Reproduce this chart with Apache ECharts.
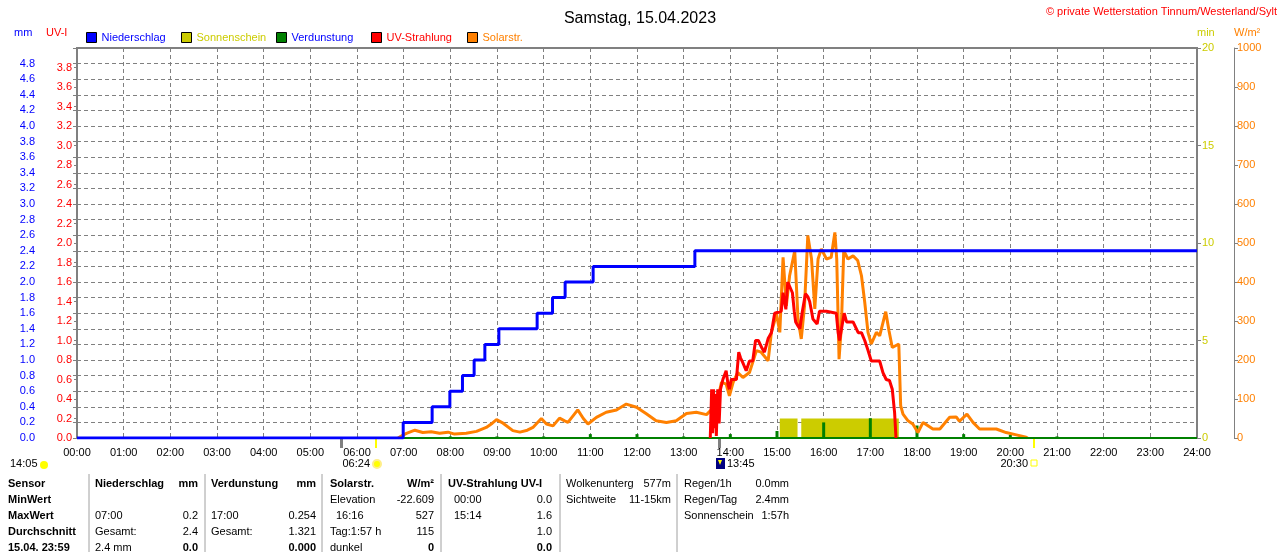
<!DOCTYPE html>
<html><head><meta charset="utf-8">
<script src="https://cdn.jsdelivr.net/npm/echarts@6/dist/echarts.min.js"></script>
<style>html,body{margin:0;padding:0;background:#fff}#c{width:1280px;height:552px}</style>
</head><body><div id="c"></div>
<script>
// ---------- data ----------
const xTickLabels = ['00:00','01:00','02:00','03:00','04:00','05:00','06:00','07:00','08:00','09:00','10:00','11:00','12:00','13:00','14:00','15:00','16:00','17:00','18:00','19:00','20:00','21:00','22:00','23:00','24:00'];

// Niederschlag (cumulative, mm)
const precipTimes  = [0, 6.99, 7.61, 7.99, 8.26, 8.51, 8.74, 9.04, 9.86, 10.19, 10.46, 11.06, 13.24, 24];
const precipValues = [0, 0.2, 0.4, 0.6, 0.8, 1.0, 1.2, 1.4, 1.6, 1.8, 2.0, 2.2, 2.4, 2.4];

// Sonnenschein (min)
const sunStart   = [15.06, 15.52];
const sunEnd     = [15.44, 17.61];
const sunMinutes = [1, 1];

// Verdunstung (mm per hour)
const evapHours  = [1,2,3,4,5,6,7,8,9,10,11,12,13,14,15,16,17,18,19,20,21,22,23];
const evapValues = [0.01,0.01,0.01,0.01,0.01,0.01,0.01,0.02,0.02,0.02,0.05,0.05,0.02,0.05,0.09,0.2,0.254,0.16,0.05,0.04,0.02,0,0];

// UV-Strahlung (UV-I)
const uvTimes  = [13.57,13.6,13.62,13.64,13.66,13.68,13.7,13.73,13.76,13.79,13.84,13.91,13.95,13.98,14.02,14.06,14.13,14.18,14.22,14.26,14.34,14.41,14.48,14.54,14.6,14.63,14.68,14.73,14.81,14.88,14.95,15.09,15.13,15.19,15.23,15.26,15.33,15.37,15.4,15.45,15.49,15.54,15.61,15.66,15.7,15.74,15.77,15.86,15.91,16.06,16.27,16.31,16.34,16.4,16.44,16.49,16.63,16.74,16.81,16.88,16.95,17.02,17.2,17.27,17.34,17.41,17.47,17.52,17.55];
const uvValues = [0,0.5,0.05,0.5,0.1,0.45,0.02,0.5,0.15,0.5,0.6,0.69,0.55,0.5,0.6,0.58,0.6,0.88,0.82,0.78,0.69,0.79,0.79,1.0,1.0,0.98,0.92,0.88,1.02,1.08,1.28,1.3,1.49,1.32,1.6,1.59,1.49,1.3,1.19,1.15,1.12,1.29,1.48,1.45,1.4,1.3,1.22,1.17,1.3,1.3,1.28,1.08,1.0,1.17,1.28,1.19,1.19,1.08,1.08,1.0,0.9,0.79,0.79,0.67,0.6,0.59,0.5,0.26,0];

// Solarstrahlung (W/m²)
const solarTimes  = [6.88,6.95,7.06,7.24,7.41,7.59,7.77,7.95,8.09,8.34,8.56,8.77,8.9,8.99,9.13,9.34,9.49,9.65,9.77,9.95,10.06,10.2,10.34,10.45,10.52,10.73,10.85,10.95,11.13,11.34,11.56,11.77,11.99,12.2,12.41,12.63,12.84,13.06,13.27,13.49,13.59,13.65,13.77,13.81,13.91,13.98,14.06,14.16,14.27,14.41,14.48,14.56,14.66,14.81,14.88,14.99,15.06,15.13,15.2,15.27,15.38,15.45,15.52,15.59,15.66,15.74,15.81,15.88,15.95,16.06,16.16,16.24,16.28,16.33,16.38,16.43,16.52,16.63,16.73,16.81,16.88,16.95,17.02,17.13,17.2,17.33,17.4,17.47,17.61,17.65,17.7,17.8,17.91,18.02,18.13,18.34,18.49,18.7,18.84,18.91,19.07,19.2,19.34,19.7,19.91,20.13,20.34,20.37];
const solarValues = [0,5,12,20,14,16,12,15,10,12,17,27,38,47,38,19,15,20,27,50,36,31,51,44,40,72,50,36,53,66,72,87,79,62,44,40,44,63,66,60,72,65,121,143,138,108,143,168,155,168,194,224,220,198,271,318,271,463,339,416,480,305,254,339,519,459,331,459,485,459,463,527,459,202,288,480,459,467,455,416,348,271,241,271,262,324,275,232,241,83,61,45,36,14,40,23,23,53,54,43,61,40,23,23,14,8,2,0];

// Event markers below the time axis
const eventTimes  = [5.65, 6.4, 13.75, 20.5];
const eventColors = ['#808080', '#ffff00', '#808080', '#ffff00'];
const eventLabels = ['', '06:24', '13:45', '20:30'];

// Table below the chart
const tableRowLabels = ['Sensor', 'MinWert', 'MaxWert', 'Durchschnitt', '15.04. 23:59'];
const tableCols = [
  {l: 95,  r: 198, head: ['Niederschlag','mm'], rows: [['',''],['07:00','0.2'],['Gesamt:','2.4'],['2.4 mm','0.0']]},
  {l: 211, r: 316, head: ['Verdunstung','mm'],  rows: [['',''],['17:00','0.254'],['Gesamt:','1.321'],['','0.000']]},
  {l: 330, r: 434, head: ['Solarstr.','W/m²'],   rows: [['Elevation','-22.609'],[' 16:16','527'],['Tag:1:57 h','115'],['dunkel','0']]},
  {l: 448, r: 552, head: ['UV-Strahlung UV-I',''], rows: [[' 00:00','0.0'],[' 15:14','1.6'],['','1.0'],['','0.0']]}
];
const infoCols = [
  {l: 566, r: 671, rows: [['Wolkenunterg','577m'],['Sichtweite','11-15km']]},
  {l: 684, r: 789, rows: [['Regen/1h','0.0mm'],['Regen/Tag','2.4mm'],['Sonnenschein','1:57h']]}
];

// ---------- chart ----------
const FONT = "'Liberation Sans', Arial, sans-serif";
const GRAY = '#808080';
const zip = (a, b) => a.map((t, i) => [t, b[i]]);

const sunData = [];
sunStart.forEach((s, i) => { sunData.push([s, 0], [s, sunMinutes[i]], [sunEnd[i], sunMinutes[i]], [sunEnd[i], 0]); });

function legendItem(left, name, textColor) {
  return {
    left: left, top: 32, padding: 0, icon: 'rect', itemWidth: 10, itemHeight: 10, itemGap: 5,
    itemStyle: {borderColor: '#000', borderWidth: 1},
    textStyle: {fontSize: 11, fontFamily: FONT, color: textColor, padding: [1, 0, 0, 0]},
    selectedMode: false,
    data: [{name: name, icon: 'rect', textStyle: {color: textColor}}]
  };
}

const option = {
  animation: false,
  backgroundColor: '#fff',
  textStyle: {fontFamily: FONT},
  title: {text: 'Samstag, 15.04.2023', left: 'center', top: 6,
          textStyle: {fontSize: 16, fontWeight: 'normal', color: '#000', fontFamily: FONT}},
  legend: [
    legendItem(86, 'Niederschlag', '#0000ff'),
    legendItem(181, 'Sonnenschein', '#cccc00'),
    legendItem(276, 'Verdunstung', '#0000ff'),
    legendItem(371, 'UV-Strahlung', '#ff0000'),
    legendItem(467, 'Solarstr.', '#ff8000')
  ],
  grid: {left: 77, right: 83, top: 48, bottom: 114, show: true, borderColor: GRAY, borderWidth: 2, backgroundColor: 'transparent'},
  xAxis: {
    type: 'value', min: 0, max: 24, interval: 1,
    axisLine: {show: false}, axisTick: {show: false},
    axisLabel: {color: '#000', fontSize: 11, margin: 9, fontFamily: FONT, formatter: v => xTickLabels[Math.round(v)]},
    splitLine: {show: true, lineStyle: {color: GRAY, width: 1, type: [4, 3]}}
  },
  yAxis: [
    {type: 'value', position: 'left', offset: 37, min: 0, max: 5, interval: 0.2,
     axisLine: {show: true, lineStyle: {color: GRAY}},
     axisTick: {show: true, length: 4, lineStyle: {color: GRAY}},
     axisLabel: {color: '#0000ff', fontSize: 11, margin: 5, fontFamily: FONT, formatter: v => v > 4.85 ? '' : v.toFixed(1)},
     splitLine: {show: true, lineStyle: {color: GRAY, width: 1, type: [4, 3]}}},
    {type: 'value', position: 'left', offset: 0, min: 0, max: 4, interval: 0.2,
     axisLine: {show: false},
     axisTick: {show: true, length: 3, lineStyle: {color: GRAY}},
     axisLabel: {color: '#ff0000', fontSize: 11, margin: 5, fontFamily: FONT, formatter: v => v > 3.85 ? '' : v.toFixed(1)},
     splitLine: {show: false}},
    {type: 'value', position: 'right', offset: 0, min: 0, max: 20, interval: 5,
     axisLine: {show: false},
     axisTick: {show: true, length: 4, lineStyle: {color: GRAY}},
     axisLabel: {color: '#cccc00', fontSize: 11, margin: 5, fontFamily: FONT, formatter: v => String(v)},
     splitLine: {show: false}},
    {type: 'value', position: 'right', offset: 37, min: 0, max: 1000, interval: 100,
     axisLine: {show: true, lineStyle: {color: GRAY}},
     axisTick: {show: true, length: 4, lineStyle: {color: GRAY}},
     axisLabel: {color: '#ff8000', fontSize: 11, margin: 3, fontFamily: FONT, formatter: v => String(v)},
     splitLine: {show: false}}
  ],
  series: [
    {name: 'Sonnenschein', type: 'line', yAxisIndex: 2, data: sunData, symbol: 'none', silent: true,
     itemStyle: {color: '#cccc00'}, lineStyle: {width: 0, color: '#cccc00'},
     areaStyle: {color: '#cccc00', opacity: 1}, z: 2},
    {name: 'Verdunstung', type: 'bar', yAxisIndex: 0, data: zip(evapHours, evapValues), barWidth: 3,
     itemStyle: {color: '#008000'}, silent: true, z: 3,
     markLine: {silent: true, symbol: 'none', label: {show: false},
                lineStyle: {color: '#008000', width: 2, type: 'solid'}, data: [{yAxis: 0}]}},
    {name: 'Solarstr.', type: 'line', yAxisIndex: 3, data: zip(solarTimes, solarValues), symbol: 'none',
     itemStyle: {color: '#ff8000'}, lineStyle: {color: '#ff8000', width: 3}, z: 4},
    {name: 'UV-Strahlung', type: 'line', yAxisIndex: 1, data: zip(uvTimes, uvValues), symbol: 'none',
     itemStyle: {color: '#ff0000'}, lineStyle: {color: '#ff0000', width: 3}, z: 5},
    {name: 'Niederschlag', type: 'line', yAxisIndex: 0, step: 'end', data: zip(precipTimes, precipValues), symbol: 'none',
     itemStyle: {color: '#0000ff'}, lineStyle: {color: '#0000ff', width: 3}, z: 6}
  ]
};

const chart = echarts.init(document.getElementById('c'));
chart.setOption(option);

// ---------- extra texts / markers ----------
const g = [];
const txt = (x, y, text, color, opts) => g.push(Object.assign({type: 'text', x: x, y: y, silent: true,
  style: Object.assign({text: text, fill: color, font: '11px ' + FONT, textVerticalAlign: 'middle'}, opts || {})}));

txt(1277, 12, '© private Wetterstation Tinnum/Westerland/Sylt', '#ff0000', {textAlign: 'right'});
txt(14, 33, 'mm', '#0000ff');
txt(46, 33, 'UV-I', '#ff0000');
txt(1197, 33, 'min', '#cccc00');
txt(1234, 33, 'W/m²', '#ff8000');

const axisY = chart.convertToPixel({yAxisIndex: 0}, 0);
eventTimes.forEach((t, i) => {
  const x = Math.round(chart.convertToPixel({xAxisIndex: 0}, t));
  g.push({type: 'rect', silent: true, shape: {x: x - 1, y: axisY - 1, width: eventColors[i] === GRAY ? 3 : 2, height: 11},
          style: {fill: eventColors[i]}});
  if (i === 1) {
    txt(x - 6, 464, eventLabels[i], '#000', {textAlign: 'right'});
    g.push({type: 'circle', silent: true, shape: {cx: x + 1, cy: 464, r: 4}, style: {fill: '#ffff00', stroke: '#ffee88', lineWidth: 2}});
  } else if (i === 2) {
    g.push({type: 'rect', silent: true, shape: {x: x - 3, y: 458, width: 9, height: 11}, style: {fill: '#000080'}});
    g.push({type: 'polygon', silent: true, shape: {points: [[x - 1, 460], [x + 3, 460], [x + 1, 465]]}, style: {fill: '#ffff00'}});
    txt(x + 8, 464, eventLabels[i], '#000');
  } else if (i === 3) {
    txt(x - 6, 464, eventLabels[i], '#000', {textAlign: 'right'});
    g.push({type: 'rect', silent: true, shape: {x: x - 3, y: 460, width: 6, height: 6}, style: {fill: 'none', stroke: '#ffff00', lineWidth: 1}});
  }
});
txt(10, 464, '14:05', '#000');
g.push({type: 'circle', silent: true, shape: {cx: 44, cy: 465, r: 4}, style: {fill: '#ffff00'}});

// table separators
[89, 205, 322, 441, 560, 677].forEach(x => g.push({type: 'line', silent: true,
  shape: {x1: x, y1: 474, x2: x, y2: 552}, style: {stroke: '#a0a0a0', lineWidth: 1}}));

const rowY = [484, 500, 516, 532, 548];
const BOLD = 'bold 11px ' + FONT;
tableRowLabels.forEach((t, i) => txt(8, rowY[i], t, '#000', {font: BOLD}));
tableCols.forEach(c => {
  txt(c.l, rowY[0], c.head[0], '#000', {font: BOLD});
  if (c.head[1]) txt(c.r, rowY[0], c.head[1], '#000', {font: BOLD, textAlign: 'right'});
  c.rows.forEach((r, i) => {
    const last = i === c.rows.length - 1;
    if (r[0]) txt(c.l + (r[0][0] === ' ' ? 6 : 0), rowY[i + 1], r[0].trim(), '#000');
    if (r[1]) txt(c.r, rowY[i + 1], r[1], '#000', {textAlign: 'right', font: last ? BOLD : '11px ' + FONT});
  });
});
infoCols.forEach(c => c.rows.forEach((r, i) => {
  txt(c.l, rowY[i], r[0], '#000');
  txt(c.r, rowY[i], r[1], '#000', {textAlign: 'right'});
}));

chart.setOption({graphic: g});
</script>
</body></html>
